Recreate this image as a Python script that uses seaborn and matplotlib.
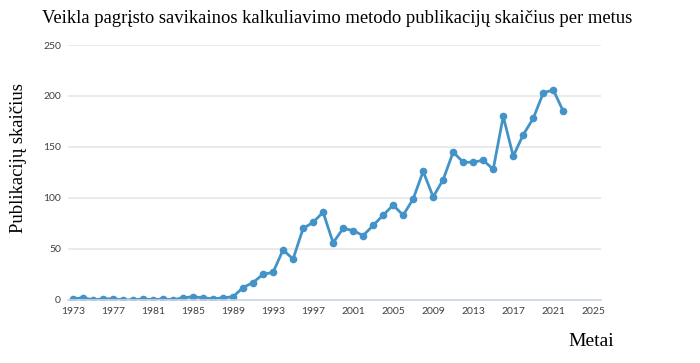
import matplotlib
matplotlib.use("Agg")
import matplotlib.pyplot as plt
import seaborn as sns
import pandas as pd

years = list(range(1973, 2023))
counts = [1, 2, 0, 1, 1, 0, 0, 1, 0, 1,
          0, 2, 3, 2, 1, 2, 3, 12, 17, 25,
          27, 49, 40, 70, 76, 86, 56, 70, 68, 63,
          73, 83, 93, 83, 99, 126, 101, 118, 145, 135,
          135, 137, 128, 180, 141, 162, 178, 203, 206, 185]
xticks = list(range(1973, 2026, 4))
yticks = [0, 50, 100, 150, 200, 250]

title = "Veikla pagrįsto savikainos kalkuliavimo metodo publikacijų skaičius per metus"
ylabel = "Publikacijų skaičius"
xlabel = "Metai"

def main():
    sns.set_theme(style="white")
    df = pd.DataFrame({"year": years, "count": counts})

    fig = plt.figure(figsize=(7, 3.63), dpi=100)
    ax = fig.add_axes([0.097, 0.174, 0.762, 0.702])
    sns.lineplot(data=df, x="year", y="count", ax=ax, color="#4393c8",
                 linewidth=2, marker="o", markersize=5.5, markeredgewidth=0)

    ax.set_xlim(1972.5, 2025.8)
    ax.set_ylim(0, 250)
    ax.set_xticks(xticks)
    ax.set_yticks(yticks)
    ax.yaxis.grid(True, color="#e6e6e6", linewidth=1.2)
    ax.set_axisbelow(True)
    for s in ["top", "right", "left"]:
        ax.spines[s].set_visible(False)
    ax.spines["bottom"].set_color("#ccd6e6")
    ax.spines["bottom"].set_linewidth(1.2)
    ax.tick_params(axis="both", length=0, labelsize=7.5, labelcolor="#404040", pad=5)
    for lab in ax.get_xticklabels() + ax.get_yticklabels():
        lab.set_family("Lato")
    ax.set_xlabel("")
    ax.set_ylabel("")

    fig.text(0.481, 0.95, title, ha="center", va="center", fontsize=13.4,
             family="Liberation Serif", color="black")
    fig.text(0.027, 0.565, ylabel, rotation=90, ha="center", va="center",
             fontsize=13.4, family="Liberation Serif", color="black")
    fig.text(0.844, 0.058, xlabel, ha="center", va="center", fontsize=14,
             family="Liberation Serif", color="black")

    fig.savefig("out.png", dpi=100)
    plt.close(fig)

if __name__ == "__main__":
    main()
